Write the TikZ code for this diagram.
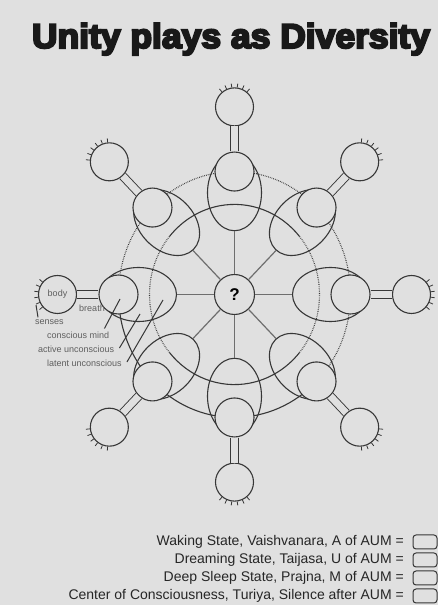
\documentclass[tikz,border=0pt]{standalone}
\usepackage{graphicx}
\usepackage{fontspec}
\setmainfont{Liberation Sans}
\newfontfamily\titlefont[FakeBold=6]{Liberation Sans Bold}
\usetikzlibrary{calc,shapes.geometric}
\definecolor{paper}{RGB}{224,224,224}
\definecolor{ink}{RGB}{55,55,55}
\definecolor{spokec}{RGB}{110,110,110}
\definecolor{tagc}{RGB}{95,95,95}

\begin{document}
\begin{tikzpicture}[x=1pt,y=1pt,
  ring/.style={draw=ink,line width=1.1pt},
  dotring/.style={ring,dash pattern=on 0.7pt off 1.1pt},
  spoke/.style={draw=spokec,line width=1.2pt},
  lobe/.style={ellipse,draw=ink,line width=1.1pt,minimum width=76pt,minimum height=54pt,inner sep=0pt},
  breath/.style={circle,draw=ink,fill=paper,line width=1.1pt,minimum size=39pt,inner sep=0pt},
  bodyc/.style={circle,draw=ink,fill=paper,line width=1.1pt,minimum size=38pt,inner sep=0pt},
  link/.style={draw=ink,line width=0.9pt,double=paper,double distance=7pt},
  hair/.style={draw=ink,line width=0.8pt},
  tag/.style={font=\fontsize{9}{10}\selectfont,text=tagc,inner sep=0pt},
  key/.style={font=\fontsize{14}{16}\selectfont,text=black!85,anchor=east,inner sep=0pt},
  keybox/.style={draw=ink,rounded corners=3pt,line width=1pt,minimum width=24pt,minimum height=14pt,inner sep=0pt}]
\useasboundingbox (0,0) rectangle (438,605);
\fill[paper] (0,0) rectangle (438,605);

\node[anchor=base,inner sep=0pt,text=black!90] (title) at (231,557)
  {\resizebox*{398pt}{32pt}{\titlefont Unity plays as Diversity}};

% wheel
\begin{scope}[shift={(234.5,310.5)},yscale=1.06]
\draw[ring] (40:85) arc[start angle=40,end angle=140,radius=85];
\draw[dotring] (140:85) arc[start angle=140,end angle=220,radius=85];
\draw[ring] (220:85) arc[start angle=220,end angle=320,radius=85];
\draw[dotring] (-40:85) arc[start angle=-40,end angle=40,radius=85];
\draw[dotring] (-45:116) arc[start angle=-45,end angle=180,radius=116];
\draw[ring] (180:116) arc[start angle=180,end angle=315,radius=116];
\node[breath,minimum size=40pt] (core) at (0,0) {\fontsize{17}{17}\selectfont\bfseries ?};
\foreach \a [count=\i] in {0,45,...,315}{
  \node[lobe,rotate=\a] (e\i) at (\a:96) {};
  \node[breath] (b\i) at (\a:116) {};
  \node[bodyc] (o\i) at (\a:177) {};
  \draw[spoke] (core) -- (e\i);
  \draw[link] (b\i) -- (o\i);
  \foreach \t [evaluate=\t as \u using {int(mod(\a+\t+360,360))}] in {-40,-24,...,40}
    \draw[hair] (o\i.\u) -- ($(o\i.center)!1.2!(o\i.\u)$);
}
\end{scope}

% left labels
\node[tag] (lblbody) at (o5) {body};
\node[tag] (lblbreath) at (92,297) {breath};
\node[tag,anchor=west] (lblsenses) at (35,283) {senses};
\node[tag,anchor=west] (lblcm) at (47,270) {conscious mind};
\node[tag,anchor=west] (lblau) at (38,256) {active unconscious};
\node[tag,anchor=west] (lbllu) at (47,242) {latent unconscious};
\coordinate (psn) at (36,300);
\coordinate (pcm) at (120,306);
\coordinate (pau) at (140,291);
\coordinate (plu) at (163,305);
\draw[hair,line width=1pt] ([xshift=3pt,yshift=2pt]lblsenses.north west) -- (psn);
\draw[hair,line width=1pt] ([xshift=-5pt,yshift=3pt]lblcm.north east) -- (pcm);
\draw[hair,line width=1pt] ([xshift=5pt,yshift=1pt]lblau.east) -- (pau);
\draw[hair,line width=1pt] ([xshift=5pt,yshift=1pt]lbllu.east) -- (plu);

% key
\node[key] (k1) at (404,63) {Waking State, Vaishvanara, A of AUM =};
\node[key] (k2) at (404,45) {Dreaming State, Taijasa, U of AUM =};
\node[key] (k3) at (404,27) {Deep Sleep State, Prajna, M of AUM =};
\node[key] (k4) at (404,9) {Center of Consciousness, Turiya, Silence after AUM =};
\node[keybox] (x1) at (425,63) {};
\node[keybox] (x2) at (425,45) {};
\node[keybox] (x3) at (425,27) {};
\node[keybox] (x4) at (425,9) {};
\end{tikzpicture}
\end{document}
